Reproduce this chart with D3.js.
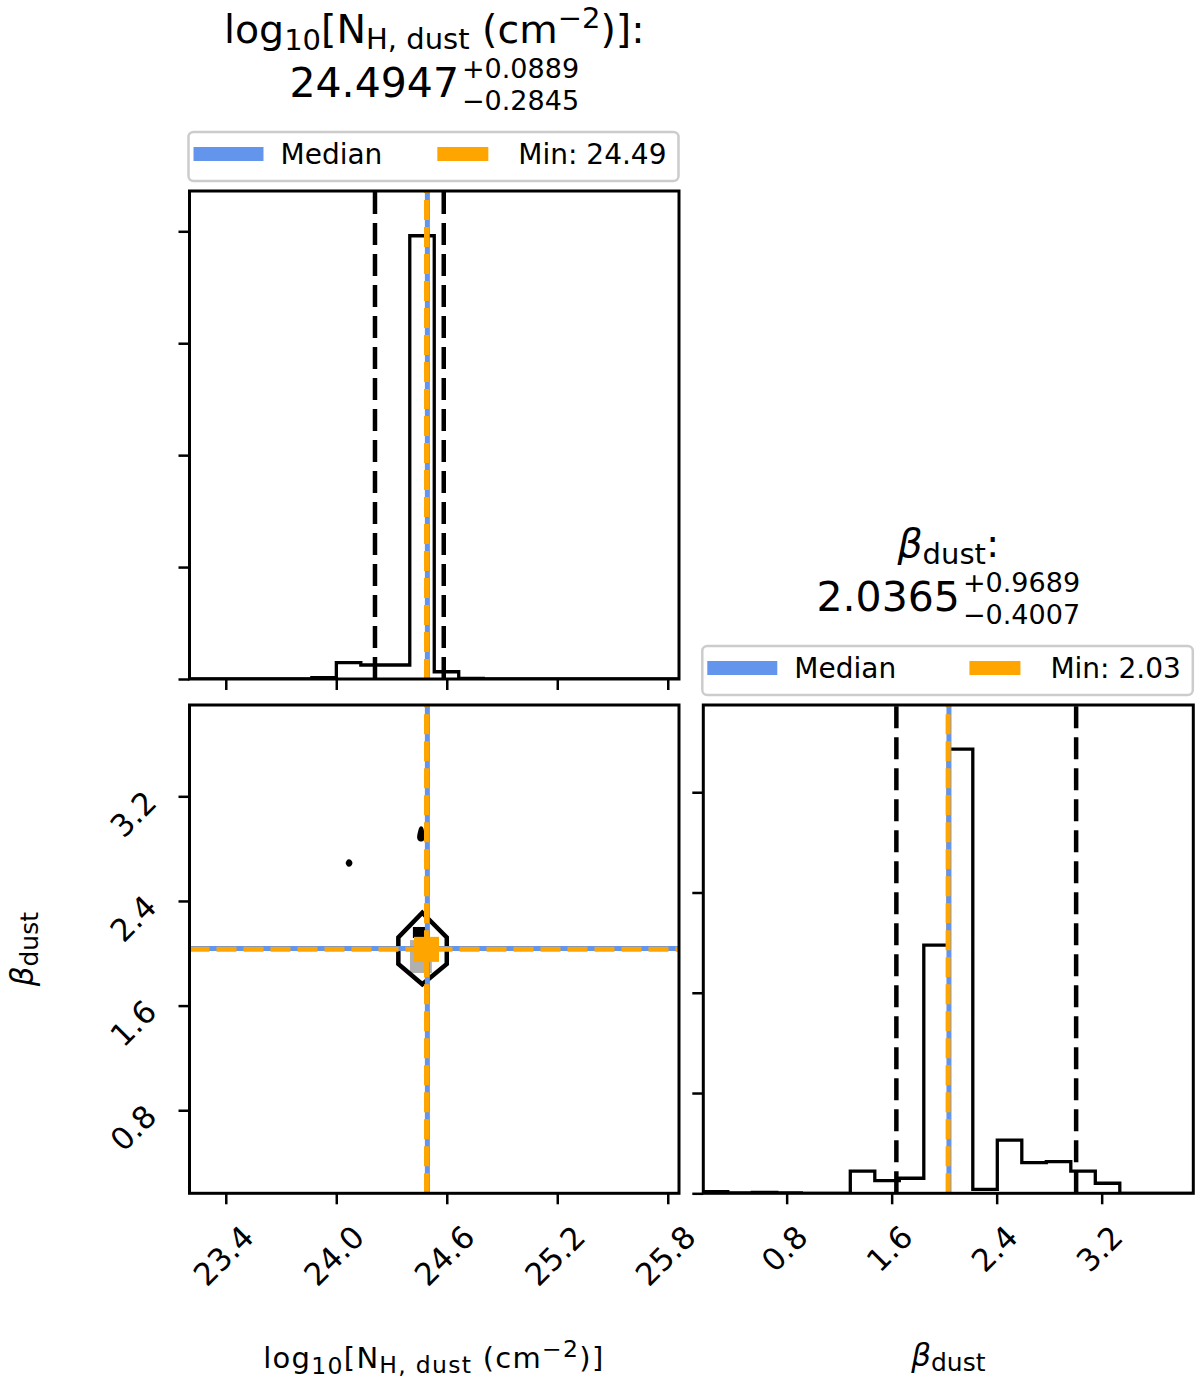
<!DOCTYPE html>
<html><head><meta charset="utf-8">
<script src="https://cdn.jsdelivr.net/npm/d3@7"></script>
<style>
body{margin:0;background:#fff}
svg{display:block}
text{font-family:"DejaVu Sans",sans-serif;fill:#000}
</style>
</head><body>
<svg id="c" width="1200" height="1385"></svg>
<script>
// ---------------- data ----------------
const nhRange = [23.203, 25.861];
const betaRange = [0.165, 3.898];
// 20-bin step histograms (relative density units)
const nhHist = [0, 0, 0, 0, 0, 0.012, 0.146, 0.125, 0.125, 3.96, 0.065, 0.006, 0, 0, 0, 0, 0, 0, 0, 0];
const betaHist = [0.016, 0.004, 0.008, 0.003, 0, 0, 0.222, 0.126, 0.15, 2.476, 4.43, 0.04, 0.53, 0.305, 0.315, 0.222, 0.1, 0, 0, 0];
const nhHistMax = 4.36;
const betaHistMax = 4.87;
const nhTicks = [23.4, 24.0, 24.6, 25.2, 25.8];
const betaTicks = [0.8, 1.6, 2.4, 3.2];
const histTicks = [0, 1, 2, 3, 4];
const nhMedian = 24.4947, nhPlus = 0.0889, nhMinus = 0.2845, nhMin = 24.49;
const betaMedian = 2.0365, betaPlus = 0.9689, betaMinus = 0.4007, betaMin = 2.03;
// 2D density: shaded cells [x0, x1, y0, y1, level]
const cells2d = [
  [24.400, 24.519, 1.849, 2.101, 0.3],
  [24.416, 24.487, 2.117, 2.201, 1.0]
];
// contour lines (closed), in data units
const contourMain = [[24.467, 2.310], [24.600, 2.122], [24.600, 1.918], [24.467, 1.763], [24.337, 1.918], [24.337, 2.122]];
const contourBlobs = [
  [[24.062, 2.690], [24.069, 2.703], [24.077, 2.690], [24.069, 2.676]],
  [[24.462, 2.955], [24.468, 2.880], [24.455, 2.872], [24.450, 2.895]]
];

// ---------------- layout ----------------
const PA = {x0: 189.5, x1: 679, y0: 191, y1: 679};
const PB = {x0: 189.5, x1: 679, y0: 705, y1: 1193.3};
const PC = {x0: 703.3, x1: 1193.3, y0: 705, y1: 1193.3};
const ORANGE = "#FFA500", BLUE = "#6495ED";
const TICKF = 31, LEGF = 28, TITF = 39.5;

const svg = d3.select("#c");
const defs = svg.append("defs");
function clip(id, P) {
  defs.append("clipPath").attr("id", id).append("rect")
    .attr("x", P.x0).attr("y", P.y0).attr("width", P.x1 - P.x0).attr("height", P.y1 - P.y0);
  return "url(#" + id + ")";
}

const xN = d3.scaleLinear().domain(nhRange).range([PA.x0, PA.x1]);
const xBeta = d3.scaleLinear().domain(betaRange).range([PC.x0, PC.x1]);
const yBeta = d3.scaleLinear().domain(betaRange).range([PB.y1, PB.y0]);
const yHA = d3.scaleLinear().domain([0, nhHistMax]).range([PA.y1, PA.y0]);
const yHC = d3.scaleLinear().domain([0, betaHistMax]).range([PC.y1, PC.y0]);

function stepPoints(counts, lo, hi) {
  const n = counts.length, w = (hi - lo) / n;
  const pts = [[lo, 0]];
  counts.forEach((c, i) => { pts.push([lo + i * w, c]); pts.push([lo + (i + 1) * w, c]); });
  pts.push([hi, 0]);
  return pts;
}

function ticksAxis(g, axis) {
  g.call(axis);
  g.select(".domain").remove();
  g.selectAll(".tick line").attr("stroke", "#000").attr("stroke-width", 2.5);
  g.selectAll(".tick text").remove();
}

function frame(P) {
  svg.append("rect").attr("x", P.x0).attr("y", P.y0).attr("width", P.x1 - P.x0).attr("height", P.y1 - P.y0)
    .attr("fill", "none").attr("stroke", "#000").attr("stroke-width", 3);
}

function vline(g, x, P, val, color, width, dash) {
  g.append("line").attr("x1", x(val)).attr("x2", x(val)).attr("y1", P.y1).attr("y2", P.y0)
    .attr("stroke", color).attr("stroke-width", width).attr("stroke-dasharray", dash || null);
}
function hline(g, y, P, val, color, width, dash) {
  g.append("line").attr("x1", P.x0).attr("x2", P.x1).attr("y1", y(val)).attr("y2", y(val))
    .attr("stroke", color).attr("stroke-width", width).attr("stroke-dasharray", dash || null);
}

// ---------- panel A: N_H histogram ----------
{
  const g = svg.append("g").attr("clip-path", clip("cA", PA));
  g.append("path").datum(stepPoints(nhHist, nhRange[0], nhRange[1]))
    .attr("d", d3.line().x(d => xN(d[0])).y(d => yHA(d[1])))
    .attr("fill", "none").attr("stroke", "#000").attr("stroke-width", 3.3).attr("stroke-linejoin", "miter");
  [nhMedian - nhMinus, nhMedian + nhPlus].forEach(v => vline(g, xN, PA, v, "#000", 4.5, "22,9"));
  vline(g, xN, PA, nhMedian, BLUE, 5);
  vline(g, xN, PA, nhMin, ORANGE, 5, "20,7");
  ticksAxis(svg.append("g").attr("transform", `translate(0,${PA.y1})`),
    d3.axisBottom(xN).tickValues(nhTicks).tickSize(11).tickSizeOuter(0));
  ticksAxis(svg.append("g").attr("transform", `translate(${PA.x0},0)`),
    d3.axisLeft(yHA).tickValues(histTicks).tickSize(11).tickSizeOuter(0));
  frame(PA);
}

// ---------- panel C: beta histogram ----------
{
  const g = svg.append("g").attr("clip-path", clip("cC", PC));
  g.append("path").datum(stepPoints(betaHist, betaRange[0], betaRange[1]))
    .attr("d", d3.line().x(d => xBeta(d[0])).y(d => yHC(d[1])))
    .attr("fill", "none").attr("stroke", "#000").attr("stroke-width", 3.3).attr("stroke-linejoin", "miter");
  [betaMedian - betaMinus, betaMedian + betaPlus].forEach(v => vline(g, xBeta, PC, v, "#000", 4.5, "22,9"));
  vline(g, xBeta, PC, betaMedian, BLUE, 5);
  vline(g, xBeta, PC, betaMin, ORANGE, 5, "20,7");
  ticksAxis(svg.append("g").attr("transform", `translate(0,${PC.y1})`),
    d3.axisBottom(xBeta).tickValues(betaTicks).tickSize(11).tickSizeOuter(0));
  ticksAxis(svg.append("g").attr("transform", `translate(${PC.x0},0)`),
    d3.axisLeft(yHC).tickValues(histTicks).tickSize(11).tickSizeOuter(0));
  frame(PC);
}

// ---------- panel B: 2D ----------
{
  const g = svg.append("g").attr("clip-path", clip("cB", PB));
  g.selectAll("rect.cell").data(cells2d).join("rect").attr("class", "cell")
    .attr("x", d => xN(d[0])).attr("width", d => xN(d[1]) - xN(d[0]))
    .attr("y", d => yBeta(d[3])).attr("height", d => yBeta(d[2]) - yBeta(d[3]))
    .attr("fill", d => d[4] >= 1 ? "#000" : "#b0b0b0");
  const cl = d3.line().x(d => xN(d[0])).y(d => yBeta(d[1])).curve(d3.curveLinearClosed);
  g.append("path").datum(contourMain).attr("d", cl).attr("fill", "none")
    .attr("stroke", "#000").attr("stroke-width", 4.5).attr("stroke-linejoin", "miter");
  g.selectAll("path.blob").data(contourBlobs).join("path").attr("class", "blob")
    .attr("d", d3.line().x(d => xN(d[0])).y(d => yBeta(d[1])).curve(d3.curveCardinalClosed))
    .attr("fill", "#000").attr("stroke", "#000").attr("stroke-width", 4).attr("stroke-linejoin", "round");
  vline(g, xN, PB, nhMedian, BLUE, 5);
  vline(g, xN, PB, nhMin, ORANGE, 5, "20,7");
  hline(g, yBeta, PB, betaMedian, BLUE, 5);
  hline(g, yBeta, PB, betaMin, ORANGE, 5, "20,7");
  const s = 25;
  g.append("rect").datum([nhMin, betaMin])
    .attr("x", d => xN(d[0]) - s / 2).attr("y", d => yBeta(d[1]) - s / 2)
    .attr("width", s).attr("height", s).attr("fill", ORANGE);
  ticksAxis(svg.append("g").attr("transform", `translate(0,${PB.y1})`),
    d3.axisBottom(xN).tickValues(nhTicks).tickSize(11).tickSizeOuter(0));
  ticksAxis(svg.append("g").attr("transform", `translate(${PB.x0},0)`),
    d3.axisLeft(yBeta).tickValues(betaTicks).tickSize(11).tickSizeOuter(0));
  frame(PB);
}

// ---------- tick labels (rotated 45 deg) ----------
const fmt = d3.format(".1f");
function xTickLabels(ticks, x, axisY) {
  ticks.forEach(t => {
    const tx = svg.append("text").attr("font-size", TICKF).attr("text-anchor", "middle")
      .attr("dy", "0.36em").text(fmt(t));
    const w = tx.node().getComputedTextLength();
    const side = (w + TICKF * 1.164) / Math.SQRT2;
    tx.attr("transform", `translate(${x(t) - 2.4},${axisY + 25 + side / 2}) rotate(-45)`);
  });
}
xTickLabels(nhTicks, xN, PB.y1);
xTickLabels(betaTicks, xBeta, PC.y1);
betaTicks.forEach(t => {
  svg.append("text").attr("font-size", TICKF).attr("text-anchor", "middle").attr("dy", "0.36em")
    .attr("transform", `translate(${PB.x0 - 56.5},${yBeta(t) + 17.5}) rotate(-45)`).text(fmt(t));
});

// ---------- legends ----------
function legend(P, minVal) {
  const bx0 = P.x0 - 1, bx1 = P.x1 - 0.5, by0 = P.y0 - 59, by1 = P.y0 - 10;
  svg.append("rect").attr("x", bx0).attr("y", by0).attr("width", bx1 - bx0).attr("height", by1 - by0)
    .attr("rx", 5).attr("fill", "#fff").attr("stroke", "#cccccc").attr("stroke-width", 2.5);
  svg.append("rect").attr("x", bx0 + 5).attr("y", by0 + 15).attr("width", 70).attr("height", 14).attr("fill", BLUE);
  svg.append("text").attr("x", bx0 + 92).attr("y", by0 + 32.3).attr("font-size", LEGF).text("Median");
  const t2 = svg.append("text").attr("x", bx1 - 12).attr("y", by0 + 32.3).attr("font-size", LEGF)
    .attr("text-anchor", "end").text("Min: " + minVal.toFixed(2));
  const w2 = t2.node().getComputedTextLength();
  const start = bx1 - 12 - w2;
  svg.append("rect").attr("x", start - 30 - 51).attr("y", by0 + 15).attr("width", 51).attr("height", 14).attr("fill", ORANGE);
}
legend(PA, nhMin);
legend(PC, betaMin);

// ---------- titles ----------
function nhLabel(t, sub, d1, d2, d3s) {
  t.append("tspan").text("log");
  t.append("tspan").attr("font-size", sub).attr("dy", d1).text("10");
  t.append("tspan").attr("dy", -d1).text("[N");
  t.append("tspan").attr("font-size", sub).attr("dy", d2).text("H, dust");
  t.append("tspan").attr("dy", -d2).text(" (cm");
  t.append("tspan").attr("font-size", sub).attr("dy", -d3s).text("\u22122");
  t.append("tspan").attr("dy", d3s).text(")]");
}
function betaLabel(t, sub, d1) {
  t.append("tspan").attr("font-style", "italic").text("\u03b2");
  t.append("tspan").attr("font-size", sub).attr("dy", d1).text("dust");
}
function valueLine(P, med, plus, minus) {
  const cx = (P.x0 + P.x1) / 2;
  const n = svg.append("text").attr("font-size", 41).attr("y", P.y0 - 94).text(med.toFixed(4));
  const sp = svg.append("text").attr("font-size", 27).attr("y", P.y0 - 113).text("+" + plus.toFixed(4));
  const sb = svg.append("text").attr("font-size", 27).attr("y", P.y0 - 81.5).text("\u2212" + minus.toFixed(4));
  const nw = n.node().getComputedTextLength();
  const sw = Math.max(sp.node().getComputedTextLength(), sb.node().getComputedTextLength());
  const x0 = cx - (nw + 3 + sw) / 2;
  n.attr("x", x0); sp.attr("x", x0 + nw + 3); sb.attr("x", x0 + nw + 3);
}
{
  const t = svg.append("text").attr("font-size", TITF).attr("text-anchor", "middle")
    .attr("x", (PA.x0 + PA.x1) / 2).attr("y", PA.y0 - 148);
  nhLabel(t, 29, 7, 6, 15);
  t.append("tspan").text(":");
  valueLine(PA, nhMedian, nhPlus, nhMinus);
}
{
  const t = svg.append("text").attr("font-size", TITF).attr("text-anchor", "middle")
    .attr("x", (PC.x0 + PC.x1) / 2).attr("y", PC.y0 - 148);
  betaLabel(t, 29, 7);
  t.append("tspan").attr("dy", -7).text(":");
  valueLine(PC, betaMedian, betaPlus, betaMinus);
}

// ---------- axis labels ----------
{
  const t = svg.append("text").attr("font-size", 29).attr("text-anchor", "middle")
    .attr("x", (PB.x0 + PB.x1) / 2 - 1).attr("y", 1368.3)
    .attr("textLength", 340).attr("lengthAdjust", "spacing");
  nhLabel(t, 23.5, 5.5, 4.5, 11);
}
{
  const t = svg.append("text").attr("font-size", 31).attr("text-anchor", "middle")
    .attr("x", (PC.x0 + PC.x1) / 2).attr("y", 1366);
  betaLabel(t, 25, 5);
}
{
  const t = svg.append("text").attr("font-size", 31).attr("text-anchor", "middle")
    .attr("transform", `translate(33,${(PB.y0 + PB.y1) / 2}) rotate(-90)`);
  betaLabel(t, 25, 5);
}
</script>
</body></html>
